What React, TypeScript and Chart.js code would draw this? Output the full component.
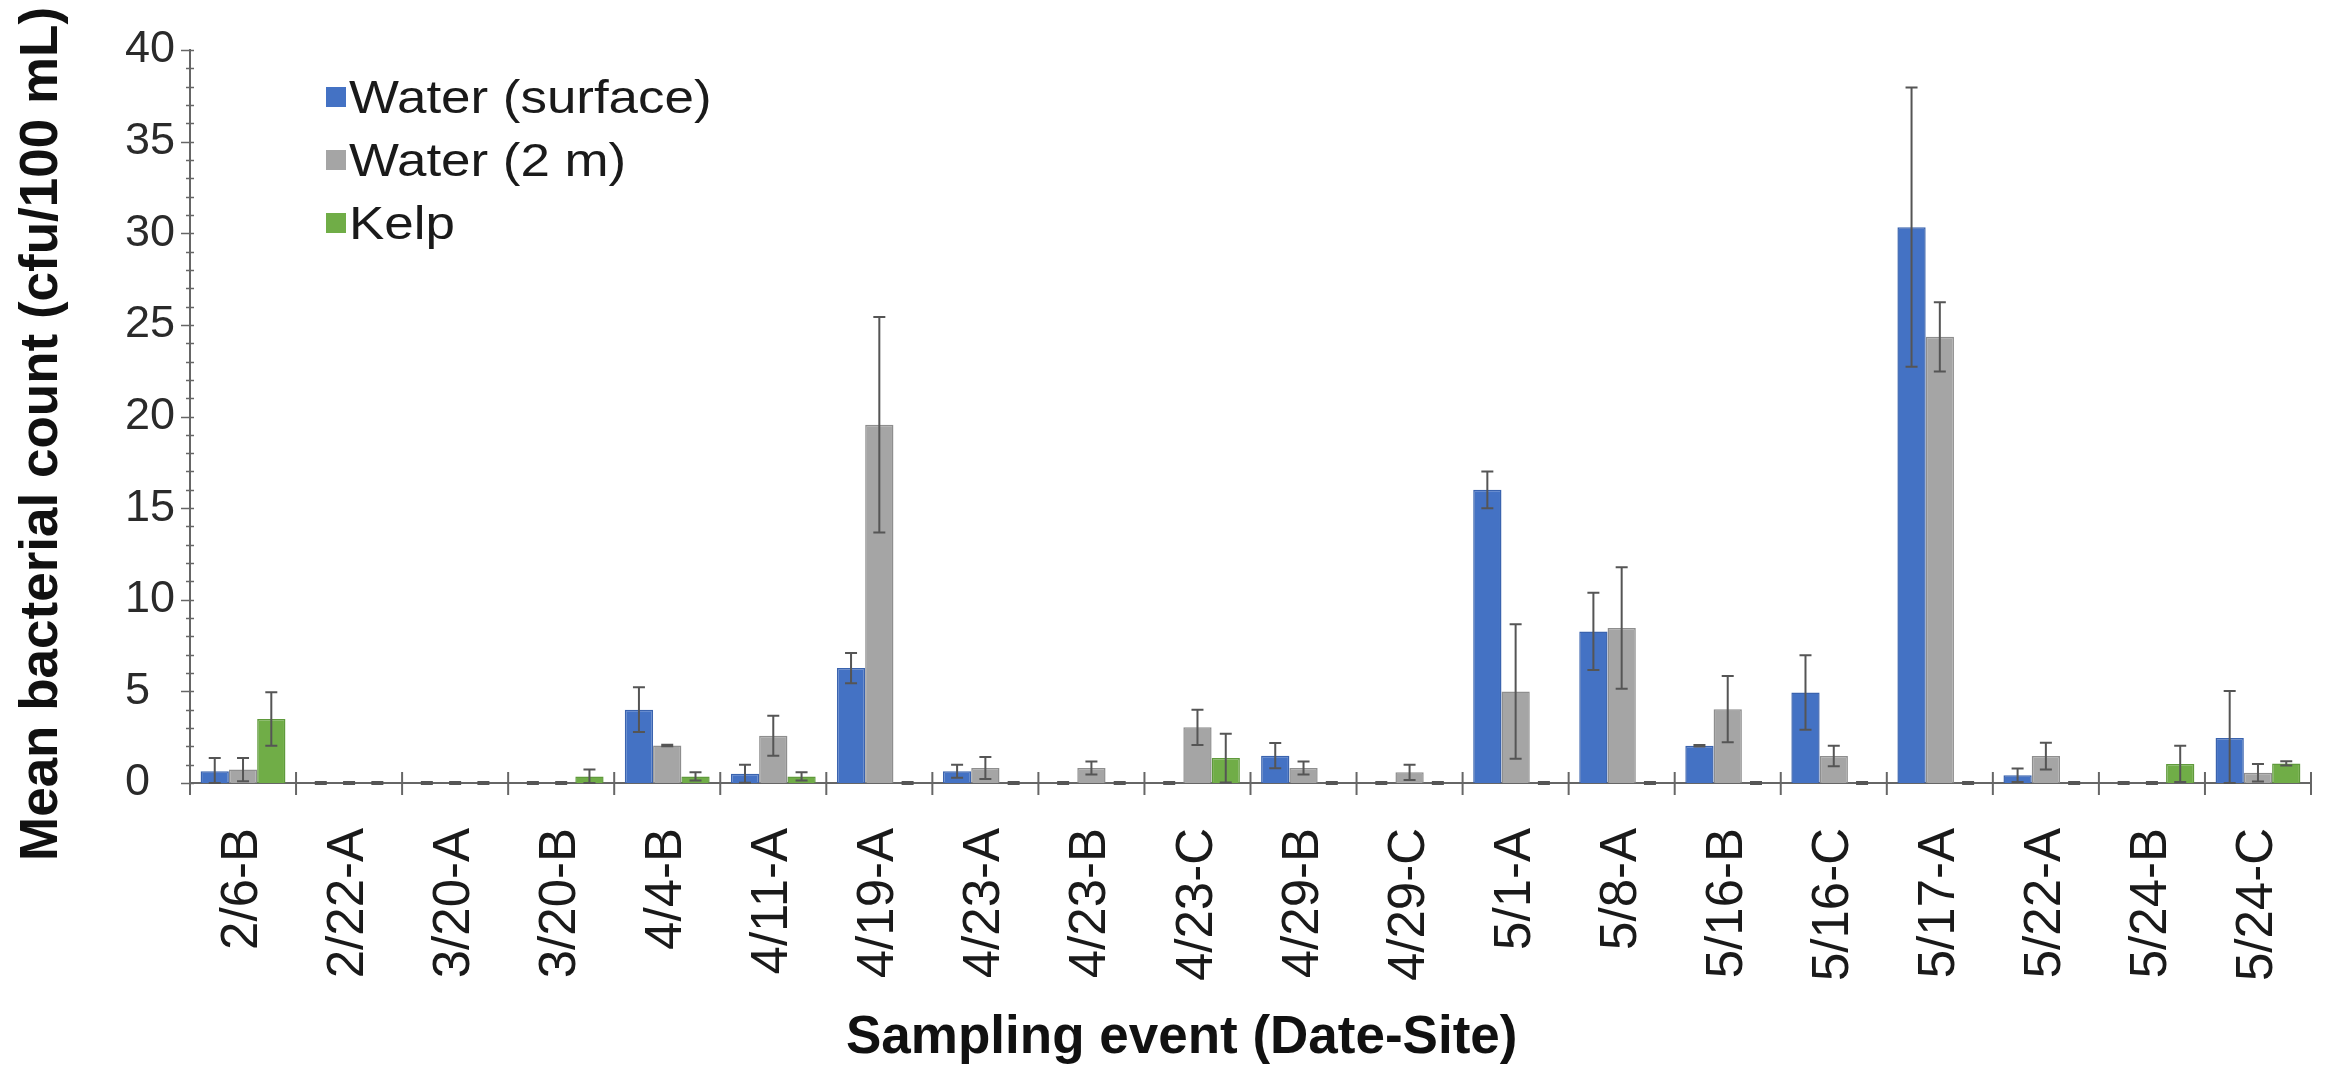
import React, { useEffect, useRef } from 'react';
import { Chart, registerables } from 'chart.js';

Chart.register(...registerables);

const FONT = "'Liberation Sans', Arial, Helvetica, sans-serif";

const categories = [
  '2/6-B', '2/22-A', '3/20-A', '3/20-B', '4/4-B', '4/11-A', '4/19-A', '4/23-A', '4/23-B', '4/23-C',
  '4/29-B', '4/29-C', '5/1-A', '5/8-A', '5/16-B', '5/16-C', '5/17-A', '5/22-A', '5/24-B', '5/24-C',
];

const seriesNames = ['Water (surface)', 'Water (2 m)', 'Kelp'];

const surfaceMeans = [0.64, 0, 0, 0, 4.0, 0.51, 6.27, 0.64, 0, 0, 1.49, 0, 16.0, 8.27, 2.03, 4.94, 30.33, 0.42, 0, 2.45];
const surfaceErrors = [0.72, 0, 0, 0, 1.22, 0.49, 0.82, 0.36, 0, 0, 0.69, 0, 1.0, 2.11, 0.04, 2.03, 7.62, 0.37, 0, 2.57];

const twoMeterMeans = [0.73, 0, 0, 0, 2.05, 2.58, 19.55, 0.82, 0.82, 3.04, 0.82, 0.58, 4.99, 8.46, 4.03, 1.47, 24.35, 1.47, 0, 0.56];
const twoMeterErrors = [0.63, 0, 0, 0, 0.04, 1.09, 5.88, 0.6, 0.36, 0.96, 0.36, 0.42, 3.67, 3.31, 1.81, 0.56, 1.89, 0.73, 0, 0.48];

const kelpMeans = [3.49, 0, 0, 0.36, 0.36, 0.36, 0, 0, 0, 1.36, 0, 0, 0, 0, 0, 0, 0, 0, 1.04, 1.07];
const kelpErrors = [1.46, 0, 0, 0.37, 0.22, 0.22, 0, 0, 0, 1.33, 0, 0, 0, 0, 0, 0, 0, 0, 0.99, 0.12];

const yTickValues = [0, 5, 10, 15, 20, 25, 30, 35, 40];

const seriesColors = ['#4472C4', '#A5A5A5', '#70AD47'];
const seriesBorders = ['#3A63AE', '#8E8E8E', '#5F9A3B'];

const yTitle = 'Mean bacterial count (cfu/100 mL)';
const xTitle = 'Sampling event (Date-Site)';

export default function App() {
  const canvasRef = useRef<HTMLCanvasElement | null>(null);

  useEffect(() => {
    const canvas = canvasRef.current;
    if (!canvas) return;
    const errors = [surfaceErrors, twoMeterErrors, kelpErrors];

    const decor = {
      id: 'decor',
      afterDatasetsDraw(chart: any) {
        const ctx = chart.ctx;
        const y = chart.scales.y;
        ctx.save();
        ctx.strokeStyle = '#555';
        chart.data.datasets.forEach((ds: any, i: number) => {
          const meta = chart.getDatasetMeta(i);
          meta.data.forEach((el: any, j: number) => {
            const v = ds.data[j] as number;
            const e = errors[i][j];
            const px = el.x;
            const top = y.getPixelForValue(v + e);
            const bot = y.getPixelForValue(Math.max(0, v - e));
            if (v === 0 && e === 0) {
              ctx.lineWidth = 4;
              ctx.beginPath();
              ctx.moveTo(px - 6, top);
              ctx.lineTo(px + 6, top);
              ctx.stroke();
              return;
            }
            ctx.lineWidth = 2;
            ctx.beginPath();
            ctx.moveTo(px, top);
            ctx.lineTo(px, bot);
            ctx.moveTo(px - 6, top);
            ctx.lineTo(px + 6, top);
            ctx.moveTo(px - 6, bot);
            ctx.lineTo(px + 6, bot);
            ctx.stroke();
          });
        });
        ctx.restore();
      },
      afterDraw(chart: any) {
        const ctx = chart.ctx;
        const area = chart.chartArea;
        const y = chart.scales.y;
        ctx.save();
        // y axis tick marks (minor every 1, major every 5)
        ctx.strokeStyle = '#666';
        ctx.lineWidth = 1.5;
        for (let v = 0; v <= 40; v++) {
          const py = Math.round(y.getPixelForValue(v)) + 0.5;
          const major = v % 5 === 0;
          ctx.beginPath();
          ctx.moveTo(area.left - (major ? 9 : 4), py);
          ctx.lineTo(area.left + 4, py);
          ctx.stroke();
        }
        // x axis category separators
        const n = categories.length;
        const cw = (area.right - area.left) / n;
        ctx.lineWidth = 2;
        for (let k = 0; k <= n; k++) {
          const px = area.left + k * cw;
          ctx.beginPath();
          ctx.moveTo(px, area.bottom - 11);
          ctx.lineTo(px, area.bottom + 12);
          ctx.stroke();
        }
        // legend
        const legendX = area.left + 136;
        seriesNames.forEach((name, i) => {
          const base = area.top + 63 + i * 63;
          ctx.fillStyle = seriesColors[i];
          ctx.fillRect(legendX, base - 26, 20, 20);
          ctx.save();
          ctx.translate(legendX + 23, base);
          ctx.scale(1.15, 1);
          ctx.fillStyle = '#1a1a1a';
          ctx.font = `46px ${FONT}`;
          ctx.textAlign = 'left';
          ctx.textBaseline = 'alphabetic';
          ctx.fillText(name, 0, 0);
          ctx.restore();
        });
        // y title
        ctx.save();
        ctx.translate(57, 861);
        ctx.rotate(-Math.PI / 2);
        ctx.fillStyle = '#111';
        ctx.font = `bold 53px ${FONT}`;
        ctx.textAlign = 'left';
        ctx.textBaseline = 'alphabetic';
        ctx.fillText(yTitle, 0, 0);
        ctx.restore();
        // x title
        ctx.fillStyle = '#111';
        ctx.font = `bold 53px ${FONT}`;
        ctx.textAlign = 'left';
        ctx.textBaseline = 'alphabetic';
        ctx.fillText(xTitle, area.left + 656, 1053);
        ctx.restore();
      },
    };

    const chart = new Chart(canvas, {
      type: 'bar',
      data: {
        labels: categories,
        datasets: [surfaceMeans, twoMeterMeans, kelpMeans].map((d, i) => ({
          label: seriesNames[i],
          data: d,
          backgroundColor: seriesColors[i],
          borderColor: seriesBorders[i],
          borderWidth: 1.5,
          categoryPercentage: 0.8,
          barPercentage: 1.0,
        })),
      },
      options: {
        responsive: false,
        animation: false,
        devicePixelRatio: 1,
        layout: { padding: { left: 125, right: 17, top: 50, bottom: 0 } },
        plugins: {
          legend: { display: false },
          tooltip: { enabled: false },
          title: { display: false },
        },
        scales: {
          x: {
            type: 'category',
            offset: true,
            grid: { display: false, drawTicks: false },
            border: { display: true, color: '#666', width: 2 },
            ticks: {
              autoSkip: false,
              maxRotation: 90,
              minRotation: 90,
              padding: 45,
              color: '#1a1a1a',
              font: { family: FONT, size: 51 },
            },
            afterFit: (scale: any) => {
              scale.height = 283;
              scale.paddingLeft = 0;
              scale.paddingRight = 0;
            },
          },
          y: {
            min: 0,
            max: 40,
            grid: { display: false, drawTicks: false },
            border: { display: true, color: '#666', width: 2 },
            afterBuildTicks: (scale: any) => {
              scale.ticks = yTickValues.map((v) => ({ value: v }));
            },
            ticks: {
              crossAlign: 'far',
              color: '#2a2a2a',
              font: { family: FONT, size: 45 },
            },
            afterFit: (scale: any) => {
              scale.width = 65;
            },
          },
        },
      },
      plugins: [decor],
    } as any);

    return () => chart.destroy();
  }, []);

  return (
    <div style={{ position: 'absolute', left: 0, top: 0, width: 2328, height: 1066, background: '#fff' }}>
      <canvas ref={canvasRef} width={2328} height={1066} style={{ display: 'block', width: 2328, height: 1066 }} />
    </div>
  );
}
